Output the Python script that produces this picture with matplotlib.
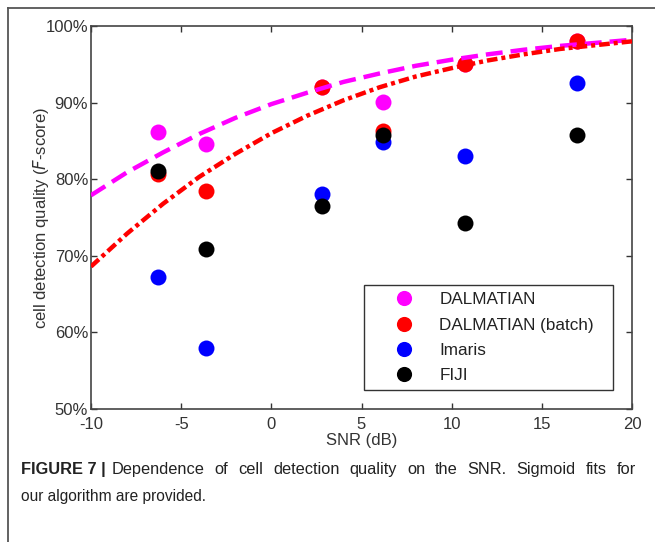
import numpy as np
import matplotlib
matplotlib.use('Agg')
import matplotlib.pyplot as plt
from matplotlib.lines import Line2D

plt.rcParams['font.family'] = ['Liberation Sans', 'DejaVu Sans']

# measured points (SNR in dB, F-score)
snr = [-6.30, -3.62, 2.83, 6.21, 10.74, 16.94]
dalmatian = [0.861, 0.846, 0.921, 0.901, 0.950, 0.980]
dalmatian_batch = [0.807, 0.784, 0.921, 0.863, 0.950, 0.980]
imaris = [0.672, 0.580, 0.781, 0.848, 0.830, 0.926]
fiji = [0.811, 0.709, 0.765, 0.858, 0.743, 0.858]

# sigmoid fit curves
fit_snr = [-10, -8, -6, -4, -2, 0, 2, 4, 6, 8, 10, 12, 14, 16, 18, 20]
fit_dalmatian = [0.779, 0.809, 0.835, 0.859, 0.880, 0.898, 0.913, 0.927,
                 0.938, 0.948, 0.956, 0.963, 0.969, 0.974, 0.978, 0.982]
fit_batch = [0.686, 0.729, 0.768, 0.803, 0.833, 0.860, 0.883, 0.903,
             0.920, 0.934, 0.945, 0.955, 0.963, 0.970, 0.975, 0.980]

xticks = [-10, -5, 0, 5, 10, 15, 20]
yticks = [0.5, 0.6, 0.7, 0.8, 0.9, 1.0]
ytick_labels = ['50%', '60%', '70%', '80%', '90%', '100%']

caption_bold = 'FIGURE 7 |'
caption_line1 = 'Dependence of cell detection quality on the SNR. Sigmoid fits for'
caption_line2 = 'our algorithm are provided.'

W, H = 655, 542
fig = plt.figure(figsize=(W/100, H/100), dpi=100)
ax = fig.add_axes([91/W, 1 - 409/H, 541/W, 383/H])

ms = 11.5
ax.plot(snr, dalmatian, 'o', color='#ff00ff', ms=ms, mec='none', label='DALMATIAN', zorder=3)
ax.plot(snr, dalmatian_batch, 'o', color='#ff0000', ms=ms, mec='none', label='DALMATIAN (batch)', zorder=3)
ax.plot(snr, imaris, 'o', color='#0000ff', ms=ms, mec='none', label='Imaris', zorder=3)
ax.plot(snr, fiji, 'o', color='black', ms=ms, mec='none', label='FIJI', zorder=3)

ax.plot(fit_snr, fit_dalmatian, color='#ff00ff', lw=3.2, dashes=(3.8, 1.8), zorder=4)
ax.plot(fit_snr, fit_batch, color='#ff0000', lw=3.2, dashes=(2.4, 0.9, 0.9, 0.9), zorder=5)

ax.set_xlim(-10, 20)
ax.set_ylim(0.5, 1.0)
ax.set_xticks(xticks)
ax.set_xticklabels([str(t) for t in xticks])
ax.set_yticks(yticks)
ax.set_yticklabels(ytick_labels)
ax.tick_params(direction='in', length=4, width=1, colors='#333333',
               labelsize=12, top=True, right=True, labelcolor='#333333')
ax.tick_params(axis='x', pad=6)
ax.tick_params(axis='y', pad=2)
for s in ax.spines.values():
    s.set_color('#444444')
    s.set_linewidth(1.2)

ax.set_xlabel('SNR (dB)', fontsize=12, color='#333333')
ax.xaxis.set_label_coords(0.5, -0.062)
ax.set_ylabel('cell detection quality ($\\it{F}$-score)', fontsize=12, color='#333333')
ax.yaxis.set_label_coords(-0.074, 0.5)

leg = ax.legend(loc='lower left', bbox_to_anchor=(0.505, 0.05, 0.46, 0.276), mode='expand',
                borderaxespad=0, fancybox=False, edgecolor='black', fontsize=12.3,
                handlelength=3.9, handletextpad=0.1, labelspacing=0.6, borderpad=0.4,
                markerscale=0.95)
leg.get_frame().set_linewidth(1.0)
for t in leg.get_texts():
    t.set_color('#222222')

# outer frame (left and top edges only)
fig.add_artist(Line2D([8/W, 8/W], [0, 1 - 8/H], color='#555555', lw=1.3,
                      transform=fig.transFigure))
fig.add_artist(Line2D([8/W, 1], [1 - 8/H, 1 - 8/H], color='#555555', lw=1.3,
                      transform=fig.transFigure))

# caption, first line justified between x=21 and x=636 px
renderer = fig.canvas.get_renderer()
base1 = 1 - 474/H
bold = fig.text(21/W, base1, caption_bold, fontsize=11.8, fontweight='bold',
                color='#222222', va='baseline')
x0 = 21 + bold.get_window_extent(renderer).width + 6
texts = []
total = 0
for w in caption_line1.split():
    t = fig.text(0, base1, w, fontsize=11.8, color='#222222', va='baseline')
    wd = t.get_window_extent(renderer).width
    texts.append((t, wd))
    total += wd
gap = (636 - x0 - total) / (len(texts) - 1)
x = x0
for t, wd in texts:
    t.set_x(x / W)
    x += wd + gap
fig.text(21/W, 1 - 501/H, caption_line2, fontsize=11.2, color='#222222', va='baseline')

fig.savefig('out.png', dpi=100, facecolor='white')
